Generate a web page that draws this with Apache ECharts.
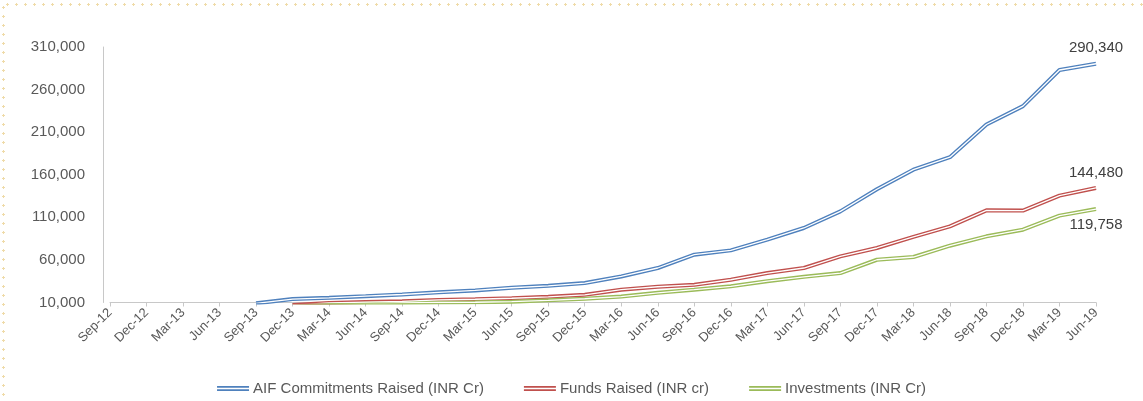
<!DOCTYPE html>
<html>
<head>
<meta charset="utf-8">
<title></title>
<style type="text/css">
  html, body { margin: 0; padding: 0; background: #fff; }
  #chart { width: 1143px; height: 401px; }
  /* dotted frame of the original picture */
  .dots-top { position: absolute; left: 3px; top: 3px; width: 1140px; height: 3px;
    background-image: radial-gradient(circle, #efdba8 1px, transparent 1.4px); background-size: 9px 3px; }
  .dots-left { position: absolute; left: 2px; top: 3px; width: 3px; height: 398px;
    background-image: radial-gradient(circle, #efdba8 1px, transparent 1.4px); background-size: 3px 9px; }
</style>
<script src="https://cdn.jsdelivr.net/npm/echarts@6/dist/echarts.min.js"></script>
</head>
<body>
<div class="dots-top"></div>
<div class="dots-left"></div>
<div id="chart"></div>
<script type="text/javascript">
// quarters on the x axis
var categories = ['Sep-12','Dec-12','Mar-13','Jun-13','Sep-13','Dec-13','Mar-14','Jun-14','Sep-14','Dec-14',
  'Mar-15','Jun-15','Sep-15','Dec-15','Mar-16','Jun-16','Sep-16','Dec-16','Mar-17','Jun-17',
  'Sep-17','Dec-17','Mar-18','Jun-18','Sep-18','Dec-18','Mar-19','Jun-19'];

// cumulative values (INR Cr)
var aifCommitments = [null,null,null,null,9000,14000,15500,17400,19400,21900,
  24200,27300,29600,32800,40600,50500,66100,71200,83800,97500,
  117000,143000,166000,180600,219000,240600,283000,290340];
var fundsRaised = [null,null,null,null,null,7000,9500,10500,11400,13000,
  13800,15000,16700,19000,25000,28500,30800,36700,44600,50500,
  64100,74000,87000,99400,118200,117900,135500,144480];
var investments = [null,null,null,null,null,5000,7000,8500,9500,10000,
  10300,11000,12600,14400,17000,21400,25000,29000,35000,40200,
  44600,60200,63400,76700,87700,95500,112000,119758];

var seriesNames = ['AIF Commitments Raised (INR Cr)', 'Funds Raised (INR cr)', 'Investments (INR Cr)'];
var seriesColors = ['#4f81bd', '#c0504d', '#9bbb59'];

var dom = document.getElementById('chart');
var myChart = echarts.init(dom);
var last = categories.length - 1;

function fmt(v) {
  return String(v).replace(/\B(?=(\d{3})+(?!\d))/g, ',');
}

// outer coloured line + thin white line on top = "double" line look
function makeSeries(name, data, color, labelPos) {
  return [{
    name: name,
    type: 'line',
    data: data,
    symbol: 'circle',
    symbolSize: 0,
    showSymbol: true,
    lineStyle: { color: color, width: 4 },
    itemStyle: { color: color },
    label: {
      show: true,
      position: labelPos,
      distance: 8,
      color: '#404040',
      fontSize: 15,
      fontFamily: 'Liberation Sans',
      formatter: function (p) { return p.dataIndex === last ? fmt(p.value) : ''; }
    },
    z: 2
  }, {
    name: name + ' inner',
    type: 'line',
    data: data,
    showSymbol: false,
    silent: true,
    lineStyle: { color: '#ffffff', width: 1.3 },
    z: 3
  }];
}

var series = []
  .concat(makeSeries(seriesNames[0], aifCommitments, seriesColors[0], 'top'))
  .concat(makeSeries(seriesNames[1], fundsRaised, seriesColors[1], 'top'))
  .concat(makeSeries(seriesNames[2], investments, seriesColors[2], 'bottom'));

var option = {
  animation: false,
  textStyle: { fontFamily: 'Liberation Sans' },
  grid: { left: 110, right: 47, top: 47, bottom: 98.5 },
  legend: {
    data: seriesNames,
    top: 376,
    left: 'center',
    itemGap: 40,
    itemWidth: 32,
    itemHeight: 5,
    icon: 'path://M0,0H32V1.7H0Z M0,3.3H32V5H0Z',
    textStyle: { color: '#595959', fontSize: 15, fontFamily: 'Liberation Sans', padding: [0, 0, 0, -1] }
  },
  xAxis: {
    type: 'category',
    data: categories,
    boundaryGap: false,
    axisLine: { lineStyle: { color: '#c8c8c8' } },
    axisTick: { show: true, length: 4, lineStyle: { color: '#c8c8c8' } },
    axisLabel: { interval: 0, rotate: 45, margin: 8, color: '#595959', fontSize: 13 },
    splitLine: { show: false }
  },
  yAxis: {
    type: 'value',
    min: 10000,
    max: 310000,
    interval: 50000,
    offset: 7,
    axisLine: { show: true, lineStyle: { color: '#c8c8c8' } },
    axisTick: { show: false },
    axisLabel: { color: '#595959', fontSize: 15, margin: 18, formatter: function (v) { return fmt(v); } },
    splitLine: { show: false }
  },
  series: series
};

myChart.setOption(option, true);
</script>
</body>
</html>
